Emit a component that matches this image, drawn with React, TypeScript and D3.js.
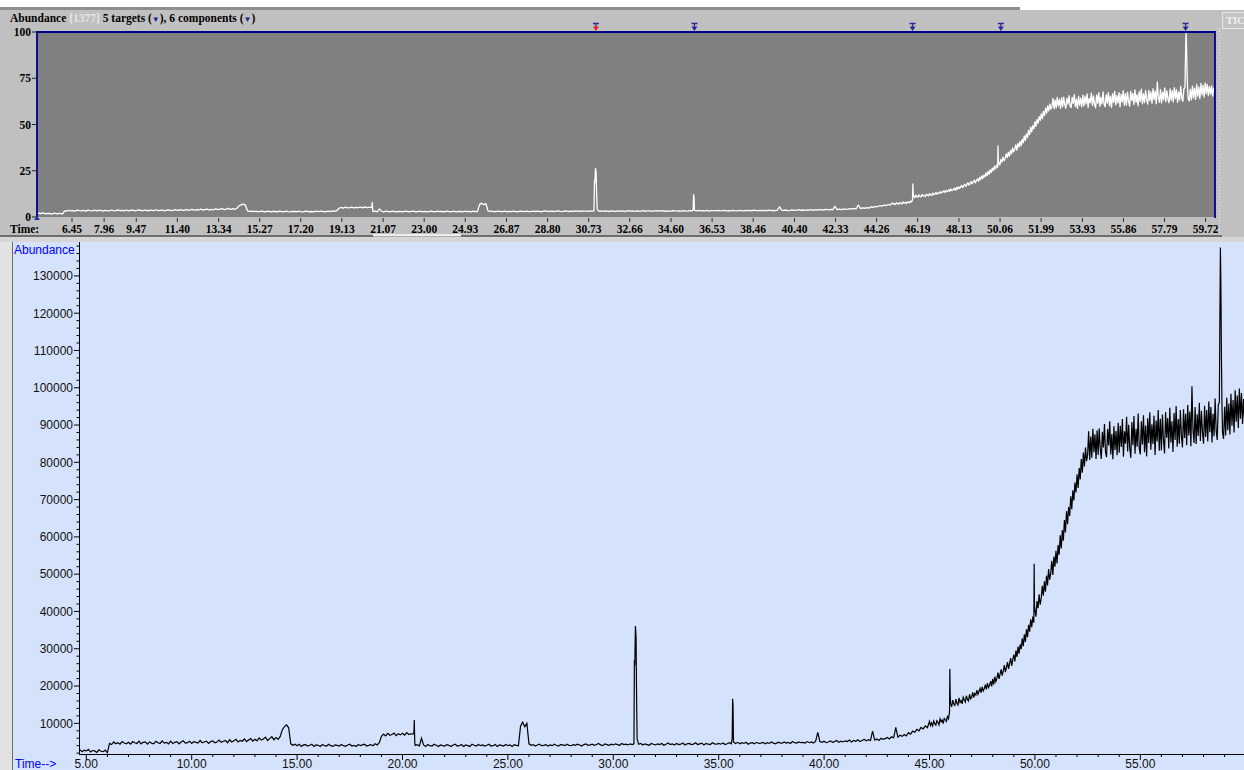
import React from 'react';
import * as d3 from 'd3';

const WIDTH = 1244;
const HEIGHT = 770;

// Early part of the run: scans every 0.1 min from 4.7 min
const earlyStart = 4.7;
const earlyStep = 0.1;

// Total ion current in thousands of counts, one row per minute of run time
const ticEarlyK: number[] = [
  /* 4.7 */ 2.9, 2.4, 2.8,
  /* 5 */ 2.6, 3.0, 2.3, 2.7, 2.6, 2.2, 2.9, 2.5, 2.4, 2.8,
  /* 6 */ 2.1, 4.6, 4.3, 5.0, 4.5, 4.8, 4.4, 5.1, 4.7, 4.5,
  /* 7 */ 4.9, 4.4, 5.1, 4.8, 4.6, 5.2, 4.5, 4.9, 5.0, 4.4,
  /* 8 */ 5.0, 4.7, 4.5, 5.2, 4.8, 4.6, 5.3, 4.7, 4.9, 4.5,
  /* 9 */ 5.2, 4.6, 4.9, 5.1, 4.5, 5.0, 5.3, 4.7, 4.8, 5.2,
  /* 10 */ 4.6, 5.1, 4.9, 4.7, 5.4, 4.8, 5.0, 5.2, 4.6, 5.1,
  /* 11 */ 5.3, 4.8, 5.0, 5.5, 4.9, 5.2, 5.4, 4.8, 5.6, 5.0,
  /* 12 */ 5.3, 5.7, 5.0, 5.4, 5.2, 5.8, 5.1, 5.5, 5.9, 5.2,
  /* 13 */ 5.7, 5.3, 6.1, 5.5, 5.8, 6.3, 5.4, 5.9, 6.4, 5.6,
  /* 14 */ 6.2, 5.7, 6.5, 8.3, 9.1, 9.6, 8.8, 4.5, 4.1, 4.4,
  /* 15 */ 4.0, 4.4, 3.8, 4.2, 4.3, 3.9, 4.1, 4.4, 3.8, 4.2,
  /* 16 */ 4.1, 3.8, 4.3, 4.0, 3.9, 4.4, 4.0, 3.8, 4.2, 4.1,
  /* 17 */ 3.9, 4.3, 4.0, 3.8, 4.2, 4.4, 3.9, 4.1, 3.8, 4.3,
  /* 18 */ 4.0, 4.2, 4.4, 3.9, 4.1, 4.3, 4.0, 4.5, 4.2, 4.8,
  /* 19 */ 6.5, 7.1, 6.6, 7.3, 6.8, 7.0, 7.4, 6.7, 7.2, 6.9,
  /* 20 */ 7.3, 6.8, 7.5, 7.0, 7.2, 7.1, 4.1, 4.3, 3.9, 6.0,
  /* 21 */ 4.2, 3.8, 4.3, 4.0, 3.9, 4.4, 4.1, 3.8, 4.2, 4.0,
  /* 22 */ 3.9, 4.3, 4.1, 3.8, 4.2, 4.4, 3.9, 4.0, 4.3, 3.8,
  /* 23 */ 4.2, 4.0, 3.8, 4.4, 4.1, 3.9, 4.3, 4.0, 4.2, 3.9,
  /* 24 */ 4.1, 4.4, 3.9, 4.0, 4.3, 3.8, 4.2, 4.1, 3.9, 4.3,
  /* 25 */ 4.0, 4.2, 3.8, 4.3, 4.1, 4.0, 9.2, 10.3, 9.1, 10.0,
  /* 26 */ 4.5, 4.1, 4.3, 3.9, 4.2, 4.4, 4.0, 4.1, 4.3, 3.9,
  /* 27 */ 4.2, 4.0, 4.4, 4.1, 3.9, 4.3, 4.2, 4.0, 4.4, 4.1,
  /* 28 */ 4.0, 4.3, 4.1, 4.4, 4.2, 3.9, 4.3, 4.5, 4.1, 4.2,
  /* 29 */ 4.4, 4.1, 4.3, 4.6, 4.2, 4.0, 4.5, 4.3, 4.1, 4.4,
  /* 30 */ 4.2, 4.5, 4.3, 4.1, 4.6, 4.3, 4.4, 4.2, 4.5, 4.3,
  /* 31 */ 27.0, 19.6, 4.4, 4.6, 4.2, 4.5, 4.3, 4.1, 4.6, 4.4,
  /* 32 */ 4.2, 4.5, 4.3, 4.6, 4.1, 4.4, 4.7, 4.3, 4.5, 4.2,
  /* 33 */ 4.6, 4.3, 4.4, 4.7, 4.2, 4.5, 4.6, 4.3, 4.4, 4.8,
  /* 34 */ 4.3, 4.5, 4.7, 4.2, 4.6, 4.4, 4.3, 4.8, 4.5, 4.4,
  /* 35 */ 4.6, 4.4, 4.7, 4.3, 4.5, 4.8, 4.5, 5.0, 4.6, 4.9,
  /* 36 */ 4.5, 4.8, 4.6, 4.9, 4.4, 4.7, 4.8, 4.5, 4.9, 4.6,
  /* 37 */ 4.7, 4.9, 4.5, 4.8, 4.6, 5.0, 4.7, 4.5, 4.9, 4.8,
  /* 38 */ 4.6, 5.0, 4.7, 4.9, 4.6, 5.1, 4.8, 4.7, 5.0, 4.8,
  /* 39 */ 4.9, 4.7, 5.1, 4.8, 5.0, 4.7, 5.2, 7.6, 5.1, 4.9,
  /* 40 */ 5.2, 4.8, 5.0, 5.3, 4.9, 5.1, 5.4, 4.9, 5.2, 5.0,
  /* 41 */ 5.3, 5.1, 5.5, 5.0, 5.4, 5.2, 5.6, 5.1, 5.4, 5.7,
  /* 42 */ 5.3, 5.6, 5.4, 7.9, 5.5, 5.8, 5.4, 6.0, 5.7, 5.9,
  /* 43 */ 6.2, 5.8, 6.4, 6.1, 8.9, 6.3, 6.8, 6.5, 7.0, 6.6,
  /* 44 */ 7.5, 7.1, 7.9, 7.6, 8.4, 8.0, 8.9, 8.5, 9.3, 8.8,
];

// Late part of the run: scans every 0.05 min from 45.0 min
const lateStart = 45.0;
const lateStep = 0.05;

const ticLateK: number[] = [
  /* 45 */ 10.5, 9.4, 10.1, 9.3, 10.6, 9.9, 9.5, 10.7, 10.3, 9.6,
  11.2, 10.4, 10.9, 9.9, 11.3, 11.0, 10.5, 11.8, 11.2, 13.0,
  /* 46 */ 15.3, 14.4, 16.2, 15.1, 14.8, 16.5, 15.4, 14.9, 16.8, 15.6,
  16.1, 15.2, 17.0, 16.3, 15.7, 17.4, 16.4, 16.0, 17.8, 16.6,
  /* 47 */ 17.0, 18.3, 16.9, 18.0, 17.6, 18.9, 17.8, 18.6, 19.4, 18.2,
  19.8, 18.7, 19.3, 20.4, 19.1, 20.8, 19.6, 20.2, 21.3, 19.9,
  /* 48 */ 21.9, 20.4, 22.5, 21.2, 22.1, 23.6, 21.9, 23.2, 24.5, 22.8,
  24.1, 25.6, 23.7, 25.0, 26.4, 24.6, 26.0, 27.5, 25.4, 27.0,
  /* 49 */ 28.4, 26.6, 29.5, 27.8, 30.6, 28.7, 31.2, 29.9, 32.8, 30.7,
  33.9, 31.8, 35.2, 33.1, 36.4, 34.6, 37.9, 35.8, 38.6, 37.0,
  /* 50 */ 40.5, 38.6, 42.8, 40.9, 44.6, 41.8, 43.5, 46.9, 44.2, 48.1,
  45.3, 49.6, 47.0, 51.4, 48.5, 50.2, 53.6, 49.8, 54.7, 52.0,
  /* 51 */ 56.3, 52.9, 57.8, 55.2, 60.4, 56.9, 61.8, 59.0, 64.5, 61.2,
  66.9, 63.4, 68.0, 65.6, 70.9, 67.4, 72.5, 69.8, 74.6, 71.9,
  /* 52 */ 76.8, 73.1, 78.5, 75.4, 80.9, 77.2, 82.6, 78.9, 84.0, 80.3,
  82.0, 88.3, 80.6, 86.9, 81.2, 89.0, 82.7, 87.5, 80.9, 88.6,
  /* 53 */ 82.0, 89.1, 83.6, 80.9, 88.2, 84.0, 90.3, 82.7, 81.4, 88.9,
  84.5, 91.0, 82.1, 87.6, 80.8, 89.7, 83.3, 88.4, 81.9, 90.6,
  /* 54 */ 82.6, 89.8, 84.1, 91.6, 81.5, 88.3, 85.0, 92.2, 82.9, 90.1,
  83.7, 81.2, 90.8, 84.6, 92.4, 82.3, 89.0, 84.2, 93.1, 83.8,
  /* 55 */ 82.1, 91.0, 84.8, 92.6, 82.7, 89.9, 81.6, 91.8, 85.2, 93.4,
  83.4, 90.2, 84.9, 92.5, 82.0, 91.2, 85.6, 94.0, 83.1, 91.7,
  /* 56 */ 83.2, 92.8, 85.9, 82.4, 93.5, 86.6, 91.9, 83.7, 94.6, 85.3,
  91.0, 82.8, 93.2, 86.0, 95.1, 84.2, 91.6, 85.0, 94.0, 87.1,
  /* 57 */ 84.0, 94.2, 86.5, 93.0, 84.6, 95.4, 87.2, 93.6, 84.3, 100.4,
  88.6, 85.2, 94.8, 84.9, 92.9, 87.1, 96.0, 85.7, 93.8, 87.9,
  /* 58 */ 85.0, 95.2, 86.8, 94.0, 85.6, 96.3, 88.1, 94.8, 85.3, 93.0,
  87.0, 97.1, 88.4, 86.0, 95.5, 96.0, 137.6, 107.7, 88.0, 86.3,
  /* 59 */ 94.9, 87.2, 97.3, 88.6, 95.8, 87.5, 98.4, 89.8, 96.7, 88.0,
  99.3, 90.9, 97.9, 89.2, 99.8, 91.7, 98.6, 90.3, 97.0, 91.4,
  /* 60 */ 97.5, 90.0, 96.2,
];

// Extra scans across the sharp peaks: [minutes, thousands of counts]
const peakScans: [number, number][] = [
  [20.54, 7.3], [20.56, 10.9], [20.58, 5.0],
  [30.98, 4.5], [31.02, 25.5], [31.05, 36.1], [31.08, 33.0], [31.13, 5.8],
  [35.64, 6.0], [35.66, 16.6], [35.68, 14.8],
  [45.965, 24.6], [45.98, 18.0],
  [49.965, 52.8], [49.98, 41.5],
  [58.77, 114.0], [58.82, 129.0], [58.87, 97.0],
];

// Retention times of the flagged targets / components (minutes)
const targetTimes = [31.07, 35.7, 45.95, 50.1, 58.78];

// Overview panel axis labels
const overviewTimeTicks = [
  6.45, 7.96, 9.47, 11.4, 13.34, 15.27, 17.2, 19.13, 21.07, 23.0, 24.93, 26.87, 28.8, 30.73, 32.66,
  34.6, 36.53, 38.46, 40.4, 42.33, 44.26, 46.19, 48.13, 50.06, 51.99, 53.93, 55.86, 57.79, 59.72,
];
const overviewPctTicks = [0, 25, 50, 75, 100];

// Main panel axis labels
const abundanceTicks = [
  10000, 20000, 30000, 40000, 50000, 60000, 70000, 80000, 90000, 100000, 110000, 120000, 130000,
];
const timeTicks = [5, 10, 15, 20, 25, 30, 35, 40, 45, 50, 55];

const SERIF = '"Liberation Serif", "Times New Roman", serif';
const SANS = '"Liberation Sans", Arial, sans-serif';

type Pt = { t: number; v: number };

export default function App() {
  const earlyPts: Pt[] = ticEarlyK.map((k, i) => ({ t: earlyStart + i * earlyStep, v: k * 1000 }));
  const latePts: Pt[] = ticLateK.map((k, i) => ({ t: lateStart + i * lateStep, v: k * 1000 }));
  const peakPts: Pt[] = peakScans.map(([t, k]) => ({ t, v: k * 1000 }));
  const data: Pt[] = [...earlyPts, ...latePts, ...peakPts].sort((a, b) => a.t - b.t);
  const maxV = d3.max(data, (d) => d.v) as number;

  // overview panel geometry
  const oL = 37, oR = 1215, oT = 32, oB = 217;
  const ox = d3.scaleLinear().domain([6.45, 59.72]).range([72, 1205.6]);
  const oy = d3.scaleLinear().domain([0, 100]).range([oB, oT]);
  const overviewLine = d3
    .line<Pt>()
    .x((d) => ox(d.t))
    .y((d) => oy((d.v / maxV) * 100));

  // main panel geometry
  const pT = 242, axisX = 79, axisY = 754;
  const x = d3.scaleLinear().domain([5, 55]).range([86.3, 1140.3]);
  const y = d3.scaleLinear().domain([0, 130000]).range([760.6, 275.9]);
  const mainLine = d3
    .line<Pt>()
    .x((d) => x(d.t))
    .y((d) => y(d.v));

  const minorAbund = d3.range(2000, 138001, 2000).filter((v) => v % 10000 !== 0);
  const minorTime = d3.range(5, 60, 1).filter((t) => t % 5 !== 0);

  return (
    <svg
      width={WIDTH}
      height={HEIGHT}
      style={{ position: 'absolute', left: 0, top: 0, display: 'block' }}
    >
      <defs>
        <clipPath id="clip-overview">
          <rect x={oL} y={oT} width={oR - oL} height={oB - oT} />
        </clipPath>
        <clipPath id="clip-main">
          <rect x={axisX + 0.5} y={pT} width={WIDTH - axisX} height={axisY - pT} />
        </clipPath>
      </defs>

      <rect width={WIDTH} height={HEIGHT} fill="#ffffff" />

      {/* overview window */}
      <rect x={0} y={10} width={WIDTH} height={232} fill="#c0c0c0" />
      <rect x={0} y={7} width={1020} height={3} fill="#8e8e8e" />
      <line x1={1219.5} y1={28} x2={1219.5} y2={234} stroke="#ececec" strokeDasharray="1,2" />
      <rect x={1222.5} y={12.5} width={24} height={16} fill="#c4c4c4" stroke="#e6e6e6" />
      <text x={1226} y={24} fontFamily={SERIF} fontWeight="bold" fontSize={10.5} fill="#f2f2f2">
        TIC
      </text>

      <text x={10} y={22} fontFamily={SERIF} fontWeight="bold" fontSize={11.5} fill="#000">
        Abundance <tspan fill="#e4e4e4">[1377]</tspan> 5 targets (
        <tspan fill="#23239a" fontSize={8}>▼</tspan>), 6 components (
        <tspan fill="#23239a" fontSize={8}>▼</tspan>)
      </text>

      <rect x={oL} y={oT} width={oR - oL} height={oB - oT} fill="#808080" />
      <path
        d={overviewLine(data) || ''}
        fill="none"
        stroke="#ffffff"
        strokeWidth={1.3}
        strokeLinejoin="round"
        clipPath="url(#clip-overview)"
      />
      <path
        d={`M${oL},${oB + 1}V${oT}H${oR}V${oB + 1}`}
        fill="none"
        stroke="#00008b"
        strokeWidth={1.8}
      />

      {/* target markers above the overview */}
      {targetTimes.map((t, i) => {
        const cx = ox(t);
        return (
          <g key={t}>
            <line x1={cx - 3} x2={cx + 3} y1={23.5} y2={23.5} stroke="#28289a" strokeWidth={1.5} />
            <line x1={cx} x2={cx} y1={23.5} y2={27} stroke="#28289a" strokeWidth={1.2} />
            <path
              d={`M${cx - 3},${26.5}L${cx + 3},${26.5}L${cx},${31}Z`}
              fill={i === 0 ? '#e02222' : '#28289a'}
            />
          </g>
        );
      })}

      {/* overview axes */}
      {overviewPctTicks.map((p) => (
        <g key={p}>
          <line x1={32} x2={oL} y1={oy(p)} y2={oy(p)} stroke="#202020" />
          <text
            x={31}
            y={oy(p)}
            dy="0.35em"
            textAnchor="end"
            fontFamily={SERIF}
            fontWeight="bold"
            fontSize={11.5}
            fill="#000"
          >
            {p}
          </text>
        </g>
      ))}
      <path d={`M${oL - 3},${oB + 3}L${oL + 3},${oB + 3}L${oL},${oB - 1}Z`} fill="#2a2aa8" />
      {overviewTimeTicks.map((t) => (
        <g key={t}>
          <line x1={ox(t)} x2={ox(t)} y1={oB + 1} y2={oB + 5} stroke="#303030" />
          <text
            x={ox(t)}
            y={233}
            textAnchor="middle"
            fontFamily={SERIF}
            fontWeight="bold"
            fontSize={11.5}
            fill="#000"
          >
            {t.toFixed(2)}
          </text>
        </g>
      ))}
      <text x={10} y={233} fontFamily={SERIF} fontWeight="bold" fontSize={11.5} fill="#000">
        Time:
      </text>

      {/* scroll bar under the overview */}
      <rect x={0} y={235} width={1222} height={2} fill="#6e6e6e" />
      <rect x={373} y={234} width={88} height={2.5} fill="#ededed" />
      <rect x={0} y={237} width={WIDTH} height={5} fill="#d6d6d6" />

      {/* main chromatogram panel */}
      <rect x={0} y={pT} width={13} height={HEIGHT - pT} fill="#e2e2e2" />
      <line x1={12.5} x2={12.5} y1={pT} y2={HEIGHT} stroke="#6c6c6c" />
      <rect x={13} y={pT} width={WIDTH - 13} height={HEIGHT - pT} fill="#d4e3fb" />

      <text x={14} y={254} fontFamily={SANS} fontSize={12} fill="#0000ff">
        Abundance
      </text>
      <text x={15} y={768} fontFamily={SANS} fontSize={12} fill="#0000ff">
        Time--&gt;
      </text>

      <line x1={axisX + 0.5} x2={axisX + 0.5} y1={pT} y2={axisY} stroke="#000" />
      <line x1={axisX} x2={WIDTH} y1={axisY + 0.5} y2={axisY + 0.5} stroke="#000" />

      {minorAbund.map((v) => (
        <line key={v} x1={76.5} x2={axisX} y1={y(v)} y2={y(v)} stroke="#000" />
      ))}
      {abundanceTicks.map((v) => (
        <g key={v}>
          <line x1={74} x2={axisX} y1={y(v)} y2={y(v)} stroke="#000" />
          <text
            x={73}
            y={y(v)}
            dy="0.36em"
            textAnchor="end"
            fontFamily={SANS}
            fontSize={12}
            fill="#111"
          >
            {v}
          </text>
        </g>
      ))}

      {minorTime.map((t) => (
        <line key={t} x1={x(t)} x2={x(t)} y1={axisY} y2={axisY + 3} stroke="#000" />
      ))}
      {timeTicks.map((t) => (
        <g key={t}>
          <line x1={x(t)} x2={x(t)} y1={axisY} y2={axisY + 6} stroke="#000" />
          <text
            x={x(t)}
            y={768}
            textAnchor="middle"
            fontFamily={SANS}
            fontSize={12}
            fill="#111"
          >
            {t.toFixed(2)}
          </text>
        </g>
      ))}

      <path
        d={mainLine(data) || ''}
        fill="none"
        stroke="#000"
        strokeWidth={1.2}
        clipPath="url(#clip-main)"
      />
    </svg>
  );
}
